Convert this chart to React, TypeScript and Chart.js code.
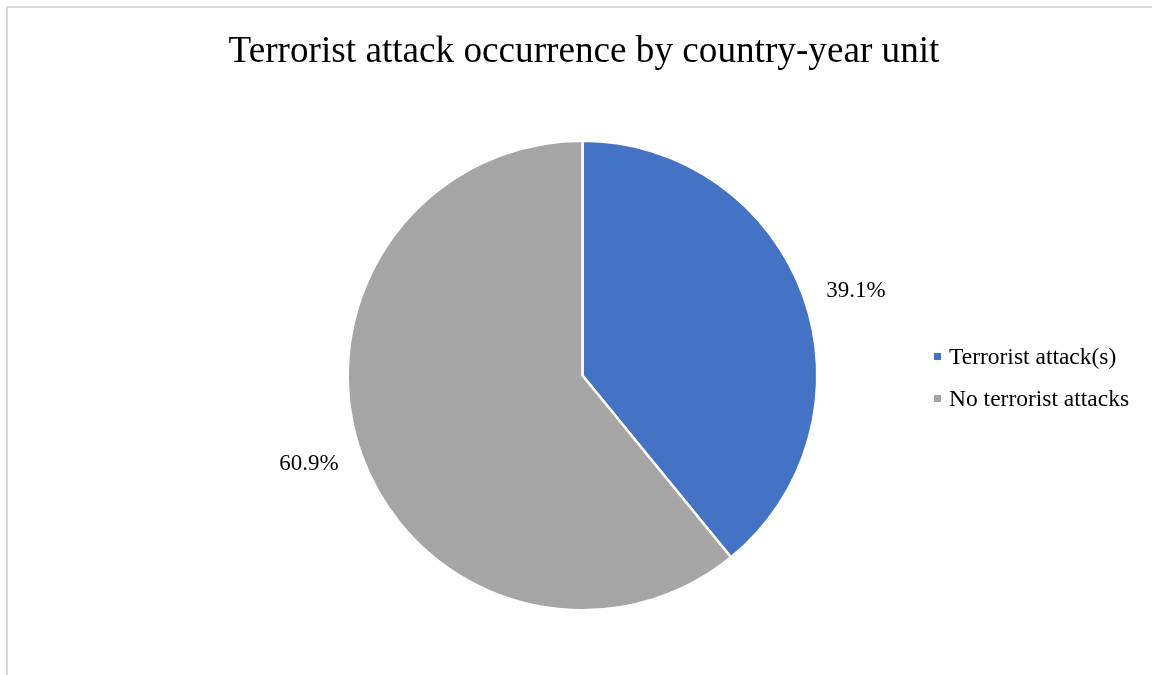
import React, { useEffect, useRef } from "react";
import { Chart, registerables } from "chart.js";

Chart.register(...registerables);

const TITLE = "Terrorist attack occurrence by country-year unit";
const categories = ["Terrorist attack(s)", "No terrorist attacks"];
const values = [39.1, 60.9];
const valueLabels = ["39.1%", "60.9%"];
const colors = ["#4472C4", "#A5A5A5"];

const SERIF = '"Liberation Serif", "Times New Roman", serif';

const decorPlugin = {
  id: "decor",
  beforeDraw(chart: any) {
    const ctx = chart.ctx;
    ctx.save();
    ctx.fillStyle = "#ffffff";
    ctx.fillRect(0, 0, chart.width, chart.height);
    ctx.strokeStyle = "#d9d9d9";
    ctx.lineWidth = 2;
    ctx.beginPath();
    ctx.moveTo(7, chart.height + 5);
    ctx.lineTo(7, 7);
    ctx.lineTo(chart.width + 5, 7);
    ctx.stroke();
    ctx.restore();
  },
  afterDraw(chart: any) {
    const ctx = chart.ctx;
    ctx.save();
    // title
    ctx.fillStyle = "#000000";
    ctx.font = `37.2px ${SERIF}`;
    ctx.textAlign = "center";
    ctx.textBaseline = "alphabetic";
    ctx.fillText(TITLE, 584, 62);

    // data labels (outside end)
    const meta = chart.getDatasetMeta(0);
    ctx.font = `23px ${SERIF}`;
    ctx.textBaseline = "middle";
    meta.data.forEach((arc: any, i: number) => {
      const mid = (arc.startAngle + arc.endAngle) / 2;
      const d = arc.outerRadius + 24;
      const x = arc.x + Math.cos(mid) * d;
      const y = arc.y + Math.sin(mid) * d;
      ctx.textAlign = Math.cos(mid) >= 0 ? "left" : "right";
      ctx.fillText(valueLabels[i], x, y + 2);
    });

    // legend
    ctx.textAlign = "left";
    ctx.font = `23.5px ${SERIF}`;
    categories.forEach((c, i) => {
      const y = 356.5 + i * 42;
      ctx.fillStyle = colors[i];
      ctx.fillRect(934, y - 3.5, 7, 7);
      ctx.fillStyle = "#000000";
      ctx.fillText(c, 949, y + 1);
    });
    ctx.restore();
  },
};

export default function App() {
  const ref = useRef<HTMLCanvasElement | null>(null);
  useEffect(() => {
    document.body.style.margin = "0";
    document.body.style.overflow = "hidden";
    const chart = new Chart(ref.current as HTMLCanvasElement, {
      type: "pie",
      data: {
        labels: categories,
        datasets: [
          {
            data: values,
            backgroundColor: colors,
            borderColor: "#ffffff",
            borderWidth: 2.5,
          },
        ],
      },
      options: {
        responsive: false,
        animation: false,
        layout: { padding: { left: 346.5, right: 333.5, top: 139.5, bottom: 63.5 } },
        plugins: {
          legend: { display: false },
          title: { display: false },
          tooltip: { enabled: false },
        },
      },
      plugins: [decorPlugin],
    });
    return () => chart.destroy();
  }, []);
  return (
    <div style={{ position: "fixed", left: 0, top: 0, width: 1152, height: 675 }}>
      <canvas ref={ref} width={1152} height={675} style={{ width: 1152, height: 675, display: "block" }} />
    </div>
  );
}
